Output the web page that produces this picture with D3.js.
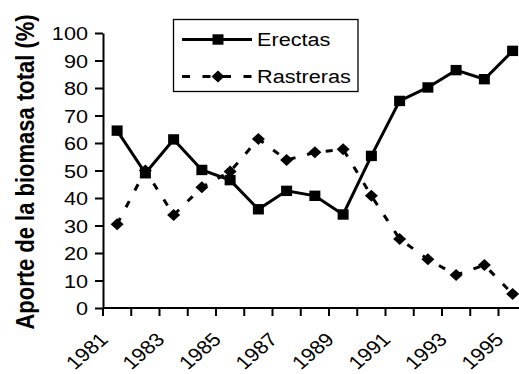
<!DOCTYPE html>
<html><head><meta charset="utf-8">
<script src="https://cdn.jsdelivr.net/npm/d3@7"></script>
<style>
html,body{margin:0;padding:0;background:#fff;}
text{font-family:"Liberation Sans",Arial,sans-serif;fill:#000;}
</style></head>
<body>
<svg id="chart" width="519" height="374"></svg>
<script>
const years = [1981,1982,1983,1984,1985,1986,1987,1988,1989,1990,1991,1992,1993,1994,1995];
const erectas = [64.5,49,61.3,50.2,46.5,35.9,42.6,40.8,34.0,55.3,75.3,80.2,86.5,83.2,93.5];
const rastreras = [30.5,50,33.8,43.9,49.6,61.5,53.8,56.6,57.7,40.8,25.1,17.7,12.0,15.6,5.1];
const yTicks = [0,10,20,30,40,50,60,70,80,90,100];
const xLabels = [1981,1983,1985,1987,1989,1991,1993,1995];
const seriesNames = ["Erectas","Rastreras"];
const yTitle = "Aporte de la biomasa total (%)";

(function(){
const SX = 1.14; // horizontal stretch of the original picture
const svg = d3.select("#chart");
const pLeft = 103, pTop = 33, pBottom = 308, band = 28.25;

const x = d3.scaleBand().domain(years).range([pLeft, pLeft + band*years.length]).padding(0);
const y = d3.scaleLinear().domain([0,100]).range([pBottom, pTop]);
const cx = d => x(d) + x.bandwidth()/2;

// Y axis
const yAxis = svg.append("g").attr("transform",`translate(${pLeft},0)`)
  .call(d3.axisLeft(y).tickValues(yTicks).tickSize(8).tickSizeOuter(0));
yAxis.select(".domain").attr("stroke","#000").attr("stroke-width",2);
yAxis.selectAll(".tick line").attr("stroke","#000").attr("stroke-width",2);
yAxis.selectAll(".tick text")
  .attr("x",0).attr("dy","0.36em")
  .attr("transform",`translate(-15,0) scale(${SX},1)`)
  .style("font-size","19px").attr("text-anchor","end");

// X axis (labels via axis, boundary ticks from band scale)
const xAxis = svg.append("g").attr("transform",`translate(0,${pBottom})`)
  .call(d3.axisBottom(x).tickValues(xLabels).tickSize(0).tickSizeOuter(0));
xAxis.select(".domain").attr("stroke","#000").attr("stroke-width",2).attr("d",`M${pLeft},0H519`);
xAxis.selectAll(".tick text")
  .attr("x",0).attr("y",0).attr("dy","0.72em")
  .attr("text-anchor","end")
  .attr("transform",`translate(-19,23) scale(${SX},1) rotate(-45)`)
  .style("font-size","19px");
svg.append("g").selectAll("line").data(years.concat(["end"])).join("line")
  .attr("x1",d => d==="end" ? pLeft+band*years.length : x(d))
  .attr("x2",d => d==="end" ? pLeft+band*years.length : x(d))
  .attr("y1",pBottom).attr("y2",pBottom+8)
  .attr("stroke","#000").attr("stroke-width",2);

// Y title
svg.append("text")
  .attr("transform",`translate(34,172) scale(${SX},1) rotate(-90)`)
  .attr("text-anchor","middle")
  .style("font-size","22px").style("font-weight","bold")
  .text(yTitle);

// Lines
const line = d3.line().x((d,i) => cx(years[i])).y(d => y(d));
svg.append("path").datum(erectas).attr("d",line)
  .attr("fill","none").attr("stroke","#000").attr("stroke-width",3).attr("stroke-linejoin","miter");
svg.append("path").datum(rastreras).attr("d",line)
  .attr("fill","none").attr("stroke","#000").attr("stroke-width",3).attr("stroke-dasharray","7,12");

const diamond = (px,py) => `M${px},${py-6}L${px+6.5},${py}L${px},${py+6}L${px-6.5},${py}Z`;
svg.append("g").selectAll("path").data(rastreras).join("path")
  .attr("d",(d,i) => diamond(cx(years[i]), y(d))).attr("fill","#000");
svg.append("g").selectAll("rect").data(erectas).join("rect")
  .attr("x",(d,i) => cx(years[i]) - 5.5).attr("y",d => y(d) - 5.2)
  .attr("width",11).attr("height",10.4).attr("fill","#000");

// Legend
const lg = svg.append("g");
lg.append("rect").attr("x",173.5).attr("y",19.5).attr("width",184.5).attr("height",72)
  .attr("fill","#fff").attr("stroke","#000").attr("stroke-width",1.3);
const ly = [39.5, 76.5];
lg.append("line").attr("x1",182).attr("x2",252).attr("y1",ly[0]).attr("y2",ly[0])
  .attr("stroke","#000").attr("stroke-width",3);
lg.append("rect").attr("x",212.5).attr("y",ly[0]-5.2).attr("width",11).attr("height",10.4).attr("fill","#000");
lg.append("line").attr("x1",182).attr("x2",252).attr("y1",ly[1]).attr("y2",ly[1])
  .attr("stroke","#000").attr("stroke-width",3).attr("stroke-dasharray","8,12.5");
lg.append("path").attr("d",diamond(218,ly[1])).attr("fill","#000");
seriesNames.forEach((n,i) => {
  lg.append("text").attr("transform",`translate(257,${ly[i]}) scale(${SX},1)`)
    .attr("dy","0.36em").style("font-size","19px").text(n);
});
})();
</script>
</body></html>
